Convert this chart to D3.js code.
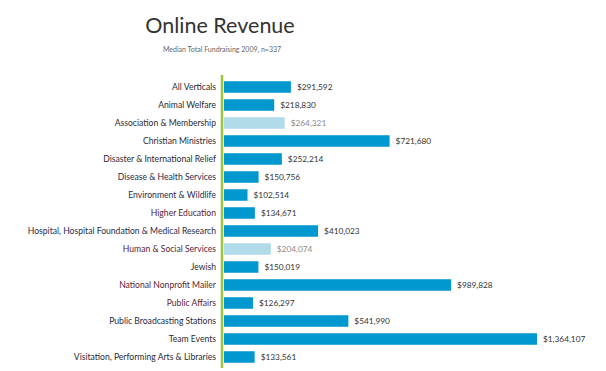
<!DOCTYPE html>
<html>
<head>
<meta charset="utf-8">
<script src="https://cdn.jsdelivr.net/npm/d3@7"></script>
<style>
  html, body { margin: 0; padding: 0; background: #fff; }
  svg { display: block; }
  text { font-family: Lato, "Open Sans", sans-serif; }
</style>
</head>
<body>
<svg id="chart" width="606" height="371"></svg>
<script>
const categories = [
  "All Verticals", "Animal Welfare", "Association & Membership", "Christian Ministries",
  "Disaster & International Relief", "Disease & Health Services", "Environment & Wildlife",
  "Higher Education", "Hospital, Hospital Foundation & Medical Research",
  "Human & Social Services", "Jewish", "National Nonprofit Mailer", "Public Affairs",
  "Public Broadcasting Stations", "Team Events", "Visitation, Performing Arts & Libraries"
];
const values = [291592, 218830, 264321, 721680, 252214, 150756, 102514, 134671, 410023,
  204074, 150019, 989828, 126297, 541990, 1364107, 133561];
const highlighted = [false, false, true, false, false, false, false, false, false,
  true, false, false, false, false, false, false];
const labelTone = ["d","d","d","d","d","n","n","r","n","r","d","r","r","n","d","d"];
const title = "Online Revenue";
const subtitle = "Median Total Fundraising 2009, n=337";

const toneColor = { d: "#2a2a33", n: "#1f2a4a", r: "#5a2333" };
const data = categories.map((c, i) => ({ c, v: values[i], light: highlighted[i], tone: labelTone[i] }));

const svg = d3.select("#chart");
const x = d3.scaleLinear().domain([0, 1364107]).range([224, 537]);
const y = d3.scaleBand().domain(categories).range([78, 366]).paddingInner(0.36).paddingOuter(0.18);
const fmt = d3.format(",");

svg.append("text").attr("x", 220).attr("y", 33).attr("text-anchor", "middle")
  .attr("font-size", 21.5).attr("fill", "#333").text(title);
svg.append("text").attr("x", 222).attr("y", 52).attr("text-anchor", "middle")
  .attr("font-size", 7).attr("fill", "#666").text(subtitle);

svg.selectAll("rect.bar").data(data).enter().append("rect")
  .attr("class", "bar")
  .attr("x", x(0))
  .attr("y", d => y(d.c))
  .attr("width", d => x(d.v) - x(0))
  .attr("height", y.bandwidth())
  .attr("fill", d => d.light ? "#b1dbe9" : "#0098cf");

svg.selectAll("text.val").data(data).enter().append("text")
  .attr("class", "val")
  .attr("x", d => x(d.v) + 6)
  .attr("y", d => y(d.c) + y.bandwidth() / 2)
  .attr("dy", "0.35em")
  .attr("font-size", 8.3)
  .attr("fill", d => d.light ? "#8a8a8a" : "#333")
  .text(d => "$" + fmt(d.v));

const yAxis = d3.axisLeft(y).tickSize(0).tickPadding(6);
const g = svg.append("g").attr("transform", `translate(${x(0) - 2},0)`).call(yAxis);
g.select(".domain").remove();
g.selectAll(".tick text")
  .attr("font-family", "Lato, sans-serif")
  .attr("font-size", 8.6)
  .attr("fill", (c, i) => toneColor[labelTone[i]]);

svg.append("line").attr("x1", x(0) - 2).attr("x2", x(0) - 2).attr("y1", 75).attr("y2", 368)
  .attr("stroke", "#9cc43b").attr("stroke-width", 2.5);
</script>
</body>
</html>
